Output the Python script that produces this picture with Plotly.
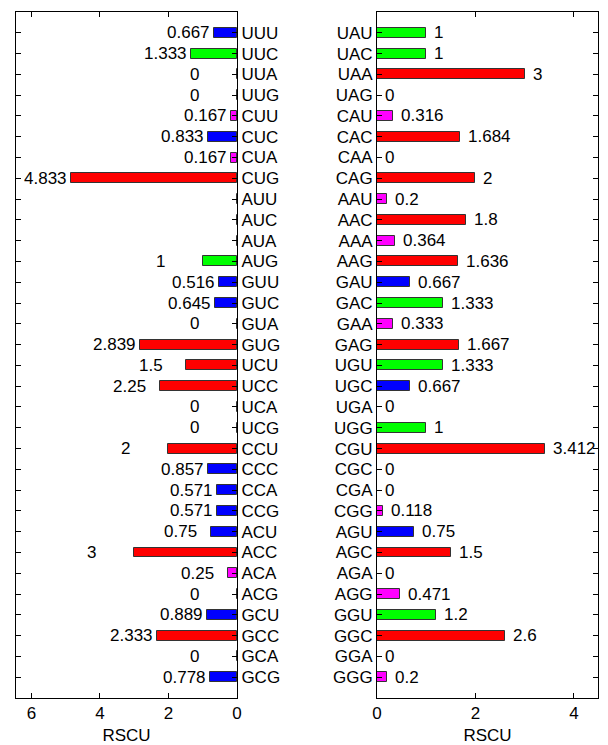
import plotly.graph_objects as go

left_codons = ["UUU", "UUC", "UUA", "UUG", "CUU", "CUC", "CUA", "CUG",
               "AUU", "AUC", "AUA", "AUG", "GUU", "GUC", "GUA", "GUG",
               "UCU", "UCC", "UCA", "UCG", "CCU", "CCC", "CCA", "CCG",
               "ACU", "ACC", "ACA", "ACG", "GCU", "GCC", "GCA", "GCG"]
left_rscu = [0.667, 1.333, 0, 0, 0.167, 0.833, 0.167, 4.833,
             None, None, None, 1, 0.516, 0.645, 0, 2.839,
             1.5, 2.25, 0, 0, 2, 0.857, 0.571, 0.571,
             0.75, 3, 0.25, 0, 0.889, 2.333, 0, 0.778]

right_codons = ["UAU", "UAC", "UAA", "UAG", "CAU", "CAC", "CAA", "CAG",
                "AAU", "AAC", "AAA", "AAG", "GAU", "GAC", "GAA", "GAG",
                "UGU", "UGC", "UGA", "UGG", "CGU", "CGC", "CGA", "CGG",
                "AGU", "AGC", "AGA", "AGG", "GGU", "GGC", "GGA", "GGG"]
right_rscu = [1, 1, 3, 0, 0.316, 1.684, 0, 2,
              0.2, 1.8, 0.364, 1.636, 0.667, 1.333, 0.333, 1.667,
              1.333, 0.667, 0, 1, 3.412, 0, 0, 0.118,
              0.75, 1.5, 0, 0.471, 1.2, 2.6, 0, 0.2]

left_xticks = [0, 2, 4, 6]
right_xticks = [0, 2, 4]
x_title = "RSCU"


def bar_color(v):
    if v is None:
        return "white"
    if v >= 1.5:
        return "#FF0000"
    if v >= 1:
        return "#00FF00"
    if v >= 0.5:
        return "#0000FF"
    return "#FF00FF"


FONT = "Liberation Sans, Arial, sans-serif"
FS = 17

fig = go.Figure()
yl = list(range(len(left_codons)))
yr = list(range(len(right_codons)))

fig.add_trace(go.Bar(
    x=[v if v is not None else 0 for v in left_rscu], y=yl, orientation="h",
    width=0.48, marker=dict(color=[bar_color(v) for v in left_rscu],
                            line=dict(color="#333333", width=1)),
    xaxis="x", yaxis="y", showlegend=False, hoverinfo="x+y"))
fig.add_trace(go.Bar(
    x=right_rscu, y=yr, orientation="h",
    width=0.48, marker=dict(color=[bar_color(v) for v in right_rscu],
                            line=dict(color="#333333", width=1)),
    xaxis="x2", yaxis="y2", showlegend=False, hoverinfo="x+y"))

annotations = []
for i, v in enumerate(left_rscu):
    if v is None:
        continue
    annotations.append(dict(x=v, y=i, xref="x", yref="y", text=f"{v:g}",
                            showarrow=False, xanchor="left", yanchor="middle",
                            xshift=-48, borderpad=0,
                            font=dict(family=FONT, size=FS, color="black")))
for i, v in enumerate(right_rscu):
    annotations.append(dict(x=v, y=i, xref="x2", yref="y2", text=f"{v:g}",
                            showarrow=False, xanchor="left", yanchor="middle",
                            xshift=7, borderpad=0,
                            font=dict(family=FONT, size=FS, color="black")))

axis_common = dict(showline=True, linecolor="black", linewidth=1, mirror="ticks",
                   ticks="inside", ticklen=5, tickcolor="black", showgrid=False,
                   zeroline=False, tickfont=dict(family=FONT, size=FS, color="black"))

fig.update_layout(
    width=600, height=737,
    margin=dict(l=8, r=10, t=4, b=47),
    paper_bgcolor="white", plot_bgcolor="white",
    bargap=0,
    annotations=annotations,
    xaxis=dict(domain=[0, 0.3797], range=[6.45, 0], tickvals=left_xticks,
               title=dict(text=x_title, standoff=6, font=dict(family=FONT, size=FS, color="black")),
               anchor="y", **axis_common),
    yaxis=dict(range=[32, -1], tickvals=yl, ticktext=left_codons, side="right",
               anchor="x", **axis_common),
    xaxis2=dict(domain=[0.6203, 1.0], range=[0, 4.49], tickvals=right_xticks,
                title=dict(text=x_title, standoff=6, font=dict(family=FONT, size=FS, color="black")),
                anchor="y2", **axis_common),
    yaxis2=dict(range=[32, -1], tickvals=yr, ticktext=right_codons, side="left",
                anchor="x2", **axis_common),
)

fig.write_html("out.html")
